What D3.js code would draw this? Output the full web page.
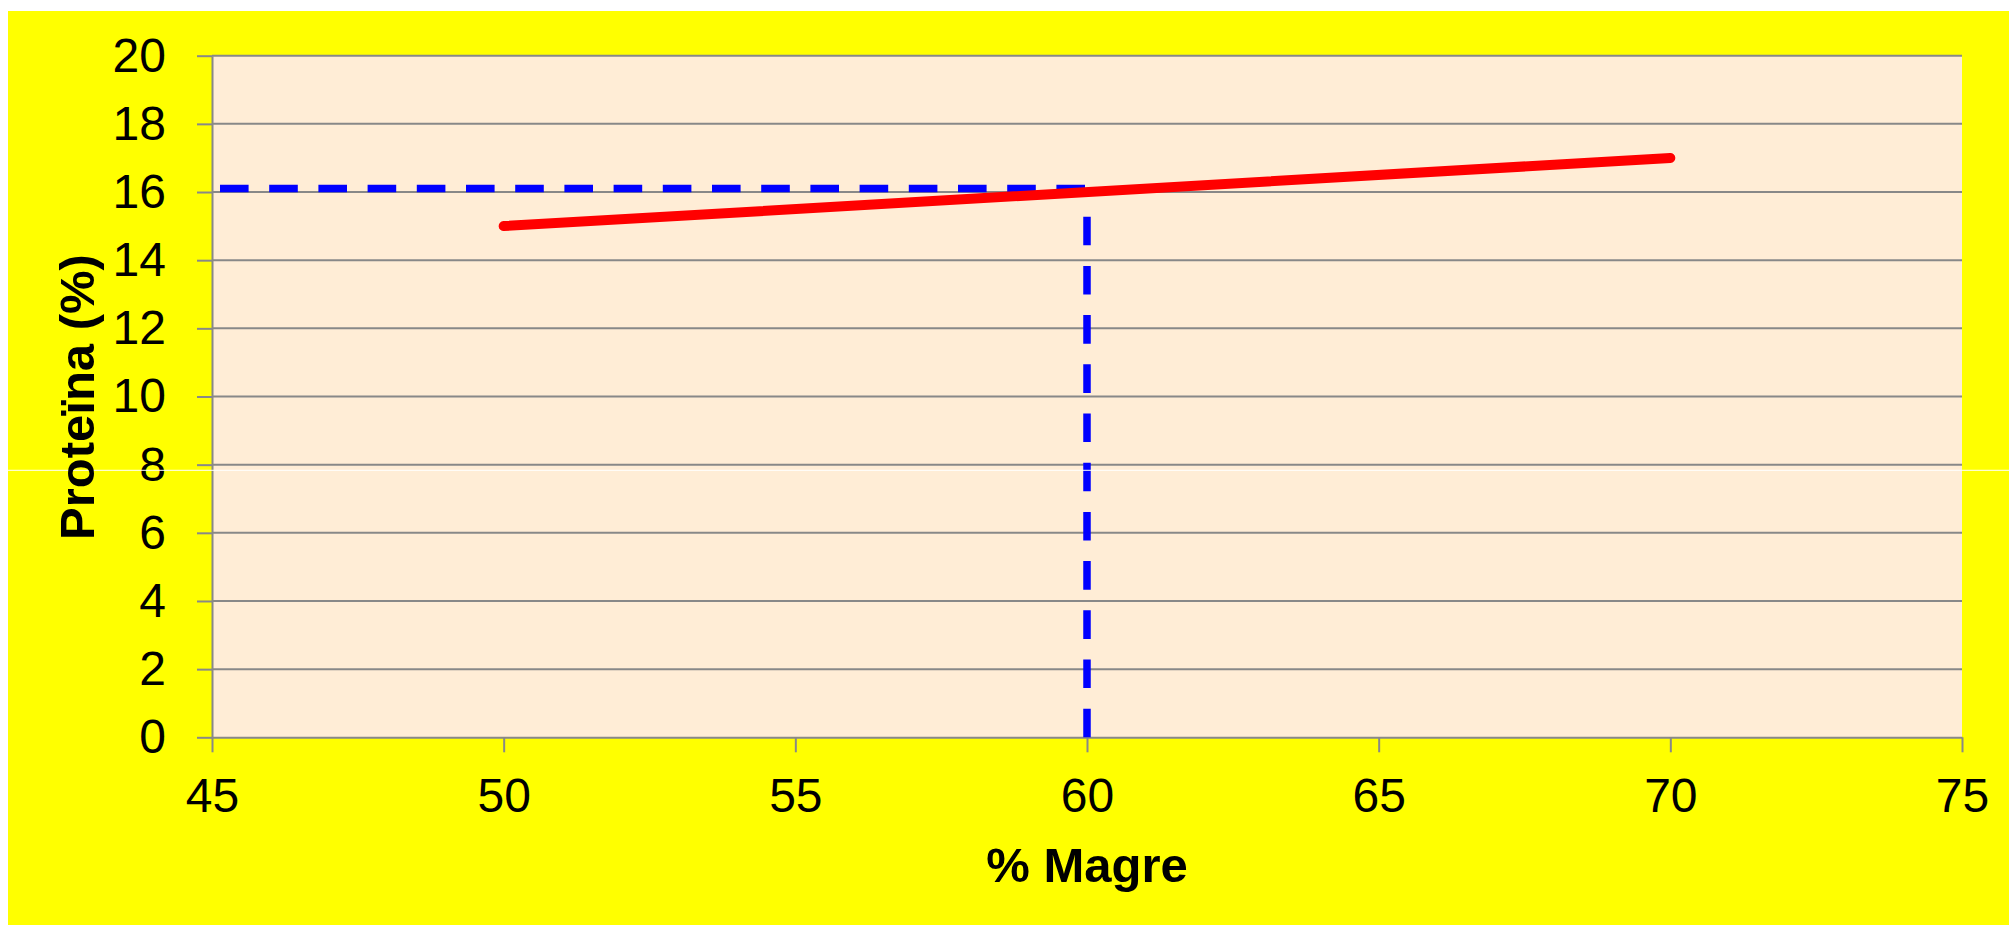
<!DOCTYPE html>
<html>
<head>
<meta charset="utf-8">
<script src="https://cdn.jsdelivr.net/npm/d3@7"></script>
<style>
  html, body { margin: 0; padding: 0; background: #ffffff; }
  svg { display: block; }
</style>
</head>
<body>
<svg id="chart" width="2009" height="925"></svg>
<script>
// ---- data ----
const lineX = [50, 70];          // % Magre
const lineY = [15, 17];          // Proteïna (%)
const refX = 60;                 // reference % Magre
const refY = 16.1;               // reference Proteïna
const xTicks = [45, 50, 55, 60, 65, 70, 75];
const yTicks = [0, 2, 4, 6, 8, 10, 12, 14, 16, 18, 20];
const xTitle = "% Magre";
const yTitle = "Proteïna (%)";

// ---- layout ----
const W = 2009, H = 925;
const plot = { left: 212, right: 1962, top: 55.7, bottom: 737.3 };
const font = "'Liberation Sans', Arial, sans-serif";

const svg = d3.select("#chart");

// yellow background
svg.append("rect").attr("x", 8).attr("y", 11).attr("width", W - 8).attr("height", H - 11)
  .attr("fill", "#ffff00");

const x = d3.scaleLinear().domain([45, 75]).range([plot.left, plot.right]);
const y = d3.scaleLinear().domain([0, 20]).range([plot.bottom, plot.top]);

// plot area
svg.append("rect")
  .attr("x", plot.left).attr("y", plot.top)
  .attr("width", plot.right - plot.left).attr("height", plot.bottom - plot.top)
  .attr("fill", "#ffedd6");

// gridlines
svg.append("g").selectAll("line").data(yTicks.filter(d => d > 0)).join("line")
  .attr("x1", plot.left).attr("x2", plot.right)
  .attr("y1", d => y(d)).attr("y2", d => y(d))
  .attr("stroke", "#888888").attr("stroke-width", 2);

// y axis
const gy = svg.append("g").attr("transform", `translate(${plot.left},0)`)
  .call(d3.axisLeft(y).tickValues(yTicks).tickSize(15).tickPadding(31).tickSizeOuter(0));
// x axis
const gx = svg.append("g").attr("transform", `translate(0,${plot.bottom})`)
  .call(d3.axisBottom(x).tickValues(xTicks).tickSize(15).tickPadding(26).tickSizeOuter(0));

[gx, gy].forEach(g => {
  g.select(".domain").attr("stroke", "#888888").attr("stroke-width", 2);
  g.selectAll(".tick line").attr("stroke", "#888888").attr("stroke-width", 2);
  g.selectAll(".tick text").attr("fill", "#000").style("font-family", font).style("font-size", "48px");
});

// reference dashed lines
const dash = "28.6,20.6";
svg.append("line")
  .attr("x1", x(45)).attr("x2", x(refX))
  .attr("y1", y(refY)).attr("y2", y(refY))
  .attr("stroke", "#0000ff").attr("stroke-width", 7.5)
  .attr("stroke-dasharray", dash).attr("stroke-dashoffset", 41.2);
svg.append("line")
  .attr("x1", x(refX)).attr("x2", x(refX))
  .attr("y1", y(0)).attr("y2", y(refY))
  .attr("stroke", "#0000ff").attr("stroke-width", 7.5)
  .attr("stroke-dasharray", dash);

// red line
const pts = lineX.map((v, i) => [v, lineY[i]]);
svg.append("path").datum(pts)
  .attr("d", d3.line().x(d => x(d[0])).y(d => y(d[1])))
  .attr("fill", "none").attr("stroke", "#ff0000").attr("stroke-width", 10)
  .attr("stroke-linecap", "round");

// thin white artifact line
svg.append("line").attr("x1", 8).attr("x2", W).attr("y1", 470.3).attr("y2", 470.3)
  .attr("stroke", "#ffffff").attr("stroke-width", 1);

// titles
svg.append("text")
  .attr("x", (plot.left + plot.right) / 2 - 0).attr("y", 882)
  .attr("text-anchor", "middle")
  .style("font-family", font).style("font-size", "49px").style("font-weight", "bold")
  .text(xTitle);
svg.append("text")
  .attr("transform", `translate(94,397) rotate(-90)`)
  .attr("text-anchor", "middle")
  .style("font-family", font).style("font-size", "49px").style("font-weight", "bold")
  .text(yTitle);
</script>
</body>
</html>
